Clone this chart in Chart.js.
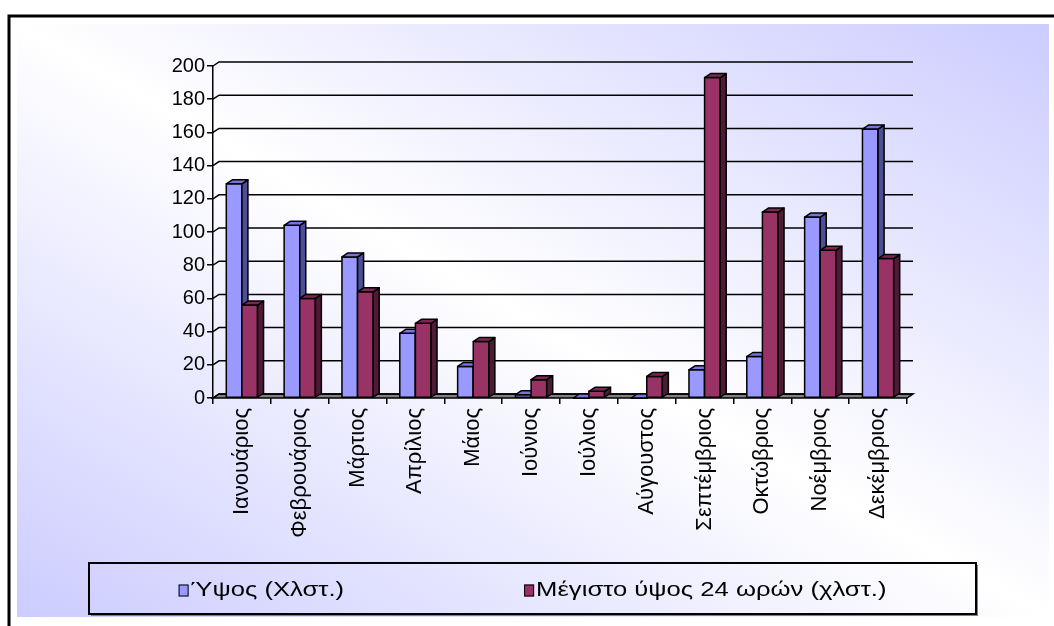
<!DOCTYPE html>
<html>
<head>
<meta charset="utf-8">
<script src="https://cdn.jsdelivr.net/npm/chart.js@4.4.1/dist/chart.umd.min.js"></script>
<style>
  html, body { margin: 0; padding: 0; background: #fff; }
  #wrap { position: relative; width: 1054px; height: 626px; }
</style>
</head>
<body>
<div id="wrap"><canvas id="rainChart"></canvas></div>
<script>
// ===== data =====
const months = ["Ιανουάριος", "Φεβρουάριος", "Μάρτιος", "Απρίλιος", "Μάιος", "Ιούνιος",
  "Ιούλιος", "Αύγουστος", "Σεπτέμβριος", "Οκτώβριος", "Νοέμβριος", "Δεκέμβριος"];
const heightMm = [129, 104, 85, 39, 19, 2, 0, 0, 17, 25, 109, 162];
const max24hMm = [56, 60, 64, 45, 34, 11, 4, 13, 193, 112, 89, 84];
const yTicks = [0, 20, 40, 60, 80, 100, 120, 140, 160, 180, 200];
const seriesNames = ["Ύψος (Χλστ.)", "Μέγιστο ύψος 24 ωρών (χλστ.)"];

// colours: front, top, side
const faceColors = [
  { front: "#9999ff", top: "#7474dc", side: "#4c4f96" },
  { front: "#993366", top: "#7c2952", side: "#4f1a35" },
];
const depthX = 6;
const depthY = 4;

Chart.defaults.font.family = "'Liberation Sans', Arial, sans-serif";
Chart.defaults.color = "#000";

// background + frame
const framePlugin = {
  id: "frame",
  beforeDraw(chart) {
    const ctx = chart.ctx;
    const x0 = 17, y0 = 24, w = 1032, h = 593;
    ctx.save();
    ctx.fillStyle = "#fff";
    ctx.fillRect(0, 0, chart.width, chart.height);
    const cx = x0 + w / 2, cy = y0 + h / 2;
    const norm = Math.hypot(w, h);
    const dx = h / norm, dy = -w / norm;
    const L = (w * h) / norm;
    const g = ctx.createLinearGradient(cx - dx * L, cy - dy * L, cx + dx * L, cy + dy * L);
    g.addColorStop(0, "#ccccff");
    g.addColorStop(0.5, "#ffffff");
    g.addColorStop(1, "#ccccff");
    ctx.fillStyle = g;
    ctx.fillRect(x0, y0, w, h);
    ctx.strokeStyle = "#000";
    ctx.lineWidth = 3;
    ctx.beginPath();
    ctx.moveTo(9, chart.height + 2);
    ctx.lineTo(9, 16);
    ctx.lineTo(chart.width + 2, 16);
    ctx.stroke();
    ctx.restore();
  },
};

// back wall gridlines + floor
const wallPlugin = {
  id: "wall",
  beforeDatasetsDraw(chart) {
    const ctx = chart.ctx;
    const { left, right } = chart.chartArea;
    const yScale = chart.scales.y;
    const base = yScale.getPixelForValue(0);
    ctx.save();
    // floor
    ctx.beginPath();
    ctx.moveTo(left, base);
    ctx.lineTo(right, base);
    ctx.lineTo(right + depthX, base - depthY);
    ctx.lineTo(left + depthX, base - depthY);
    ctx.closePath();
    ctx.fillStyle = "#808080";
    ctx.fill();
    ctx.strokeStyle = "#000";
    ctx.lineWidth = 1.5;
    ctx.stroke();
    yTicks.forEach((v) => {
      const y = yScale.getPixelForValue(v);
      ctx.beginPath();
      ctx.moveTo(left, y);
      ctx.lineTo(left + depthX, y - depthY);
      ctx.lineTo(right + depthX, y - depthY);
      ctx.stroke();
    });
    ctx.restore();
  },
};

// 3D bars, drawn category by category
const barsPlugin = {
  id: "bars3d",
  afterDatasetsDraw(chart) {
    const ctx = chart.ctx;
    ctx.save();
    ctx.lineWidth = 1.5;
    ctx.strokeStyle = "#000";
    ctx.lineJoin = "round";
    months.forEach((m, i) => {
      [0, 1].forEach((d) => {
        const el = chart.getDatasetMeta(d).data[i];
        const c = faceColors[d];
        const l = el.x - el.width / 2;
        const r = el.x + el.width / 2;
        const t = el.y;
        const b = el.base;
        // front
        ctx.fillStyle = c.front;
        ctx.fillRect(l, t, r - l, b - t);
        ctx.strokeRect(l, t, r - l, b - t);
        // side
        ctx.beginPath();
        ctx.moveTo(r, t);
        ctx.lineTo(r + depthX, t - depthY);
        ctx.lineTo(r + depthX, b - depthY);
        ctx.lineTo(r, b);
        ctx.closePath();
        ctx.fillStyle = c.side;
        ctx.fill();
        ctx.stroke();
        // top
        ctx.beginPath();
        ctx.moveTo(l, t);
        ctx.lineTo(l + depthX, t - depthY);
        ctx.lineTo(r + depthX, t - depthY);
        ctx.lineTo(r, t);
        ctx.closePath();
        ctx.fillStyle = c.top;
        ctx.fill();
        ctx.stroke();
      });
    });
    ctx.restore();
  },
};

// boxed legend at the bottom (text a bit wider, like the stretched original)
const legendBoxPlugin = {
  id: "legendBox",
  afterDraw(chart) {
    const ctx = chart.ctx;
    const bx = 89, by = 563, bw = 887, bh = 51;
    const stretch = 1.22;
    ctx.save();
    ctx.fillStyle = "#808080";
    ctx.fillRect(bx + 2, by + bh, bw, 2);
    ctx.fillRect(bx + bw, by + 2, 2, bh);
    ctx.strokeStyle = "#000";
    ctx.lineWidth = 2;
    ctx.strokeRect(bx, by, bw, bh);

    ctx.font = "21px 'Liberation Sans', Arial, sans-serif";
    ctx.textBaseline = "middle";
    const sq = 10, gapSq = 2, gapItems = 180;
    const widths = seriesNames.map((s) => sq + gapSq + ctx.measureText(s).width * stretch);
    const total = widths[0] + gapItems + widths[1];
    let x = bx + bw / 2 - total / 2;
    const cy = by + bh / 2 + 2;
    seriesNames.forEach((s, k) => {
      ctx.fillStyle = faceColors[k].front;
      ctx.fillRect(x, cy - 6, sq, 12);
      ctx.lineWidth = 1;
      ctx.strokeRect(x + 0.5, cy - 5.5, sq - 1, 11);
      ctx.fillStyle = "#000";
      ctx.save();
      ctx.translate(x + sq + gapSq, cy);
      ctx.scale(stretch, 1);
      ctx.fillText(s, 0, 0);
      ctx.restore();
      x += widths[k] + gapItems;
    });
    ctx.restore();
  },
};

const ctx = document.getElementById("rainChart").getContext("2d");
const rainChart = new Chart(ctx, {
  type: "bar",
  data: {
    labels: months,
    datasets: [
      { label: seriesNames[0], data: heightMm, backgroundColor: faceColors[0].front, borderWidth: 0 },
      { label: seriesNames[1], data: max24hMm, backgroundColor: faceColors[1].front, borderWidth: 0 },
    ],
  },
  options: {
    responsive: true,
    maintainAspectRatio: false,
    animation: false,
    categoryPercentage: 0.54,
    barPercentage: 1,
    layout: { padding: { top: 66, right: 147, bottom: 0, left: 0 } },
    plugins: {
      legend: { display: false },
      tooltip: { enabled: false },
    },
    scales: {
      y: {
        min: 0,
        max: 200,
        afterBuildTicks: (s) => { s.ticks = yTicks.map((v) => ({ value: v })); },
        afterFit: (s) => { s.width = 213; },
        ticks: { font: { size: 20 }, color: "#000", padding: 2 },
        grid: { drawOnChartArea: false, tickLength: 6, color: "#000", lineWidth: 1.5 },
        border: { color: "#000", width: 1.5 },
      },
      x: {
        afterFit: (s) => { s.height = 228; },
        ticks: { font: { size: 22 }, color: "#000", minRotation: 90, maxRotation: 90, padding: 4, autoSkip: false },
        grid: { offset: true, drawOnChartArea: false, tickLength: 6, color: "#000", lineWidth: 1.5 },
        border: { display: false },
      },
    },
  },
  plugins: [framePlugin, wallPlugin, barsPlugin, legendBoxPlugin],
});
</script>
</body>
</html>
